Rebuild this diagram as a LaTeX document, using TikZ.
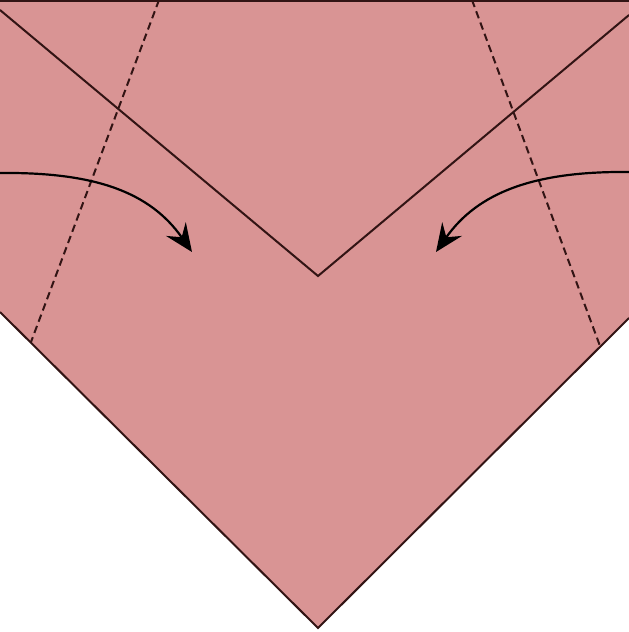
\documentclass[tikz,border=0pt]{standalone}
\usetikzlibrary{arrows.meta}
\definecolor{paper}{RGB}{217,148,148}
\definecolor{crease}{RGB}{50,20,20}
\tikzset{
  edge/.style={draw=crease, line width=2pt, line join=miter},
  fold/.style={draw=crease, line width=2pt},
  valley/.style={draw=crease, line width=2pt, dash pattern=on 7.5pt off 4.5pt},
  move/.style={draw=black, line width=2.2pt, -{Stealth[length=28pt, width=24pt, inset=10pt]}}
}
\begin{document}
\begin{tikzpicture}[x=1pt, y=-1pt]
\useasboundingbox (0,0) rectangle (629,632);
% outline corners
\coordinate (tl) at (0,1);
\coordinate (tr) at (629,1);
\coordinate (rs) at (629,318);
\coordinate (bot) at (318,628);
\coordinate (ls) at (0,312);
\fill[paper] (0,0) -- (629,0) -- (rs) -- (bot) -- (ls) -- cycle;
\draw[edge] (tl) -- (tr);
\draw[edge] (ls) -- (bot) -- (rs);
% folded flaps
\coordinate (fl) at (0,10);
\coordinate (apex) at (318,276);
\coordinate (fr) at (629,15);
\draw[fold] (fl) -- (apex) -- (fr);
% dashed creases
\coordinate (dlt) at (159,0);
\coordinate (dlb) at (31,342);
\coordinate (drt) at (472,0);
\coordinate (drb) at (600,346);
\draw[valley] (dlt) -- (dlb);
\draw[valley] (drt) -- (drb);
% arrows
\coordinate (al) at (0,173);
\coordinate (alt) at (192,252);
\coordinate (ar) at (629,172);
\coordinate (art) at (436,252);
\draw[move] (al) .. controls (95,172) and (150,192) .. (alt);
\draw[move] (ar) .. controls (535,171) and (478,192) .. (art);
\end{tikzpicture}
\end{document}
